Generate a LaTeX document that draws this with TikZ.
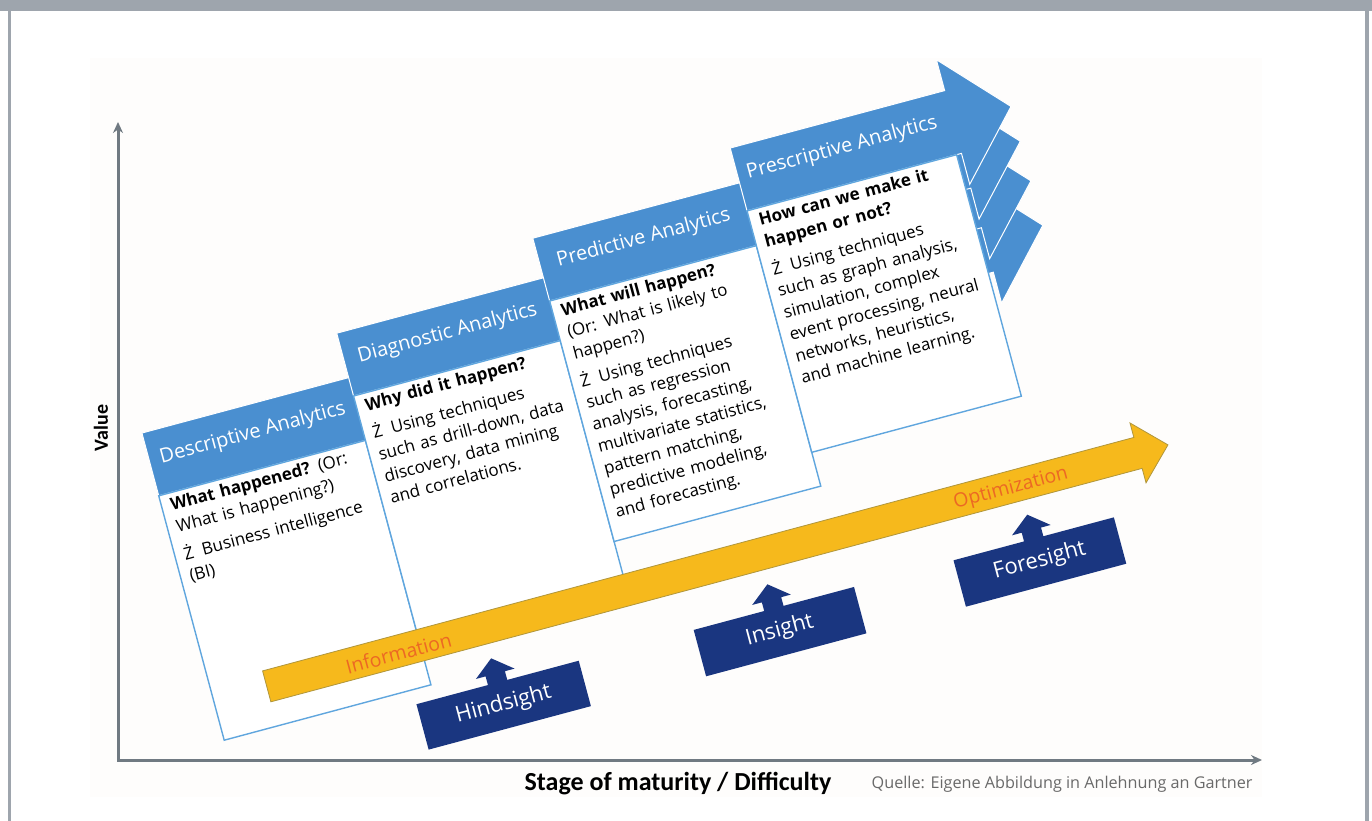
\documentclass[tikz,border=0pt]{standalone}
\usepackage{fontspec}
\setmainfont{Open Sans}
\newfontfamily\carlito{Carlito}
\usetikzlibrary{arrows.meta}

\definecolor{framegray}{RGB}{158,165,173}
\definecolor{axisgray}{RGB}{112,122,130}
\definecolor{hdblue}{RGB}{74,143,208}
\definecolor{cardline}{RGB}{96,166,222}
\definecolor{sightblue}{RGB}{26,54,128}
\definecolor{gold}{RGB}{246,185,28}
\definecolor{goldedge}{RGB}{176,150,60}
\definecolor{orangetxt}{RGB}{236,104,36}
\definecolor{srcgray}{RGB}{105,105,105}
\definecolor{bgtint}{RGB}{254,253,252}

\tikzset{
  hdarrow/.style={fill=hdblue, draw=white, line width=1pt},
  card/.style={fill=white, draw=cardline, line width=1.4pt},
  cardtitle/.style={text=white, inner sep=0pt, font=\fontsize{20}{24}\selectfont},
  cardtext/.style={anchor=north west, inner sep=0pt, text width=205pt, align=left,
    font=\fontsize{17}{22.5}\selectfont},
  sightbox/.style={fill=sightblue},
  sightlabel/.style={text=white, inner sep=0pt, font=\fontsize{22}{26}\selectfont},
  flowlabel/.style={text=orangetxt, inner sep=0pt, font=\fontsize{19.5}{22}\selectfont}
}

\begin{document}
\begin{tikzpicture}[x=1pt, y=-1pt, >={Stealth[length=11pt,width=10pt]}]
    \useasboundingbox (0,0) rectangle (1372,821);

    % Frame
    \fill[bgtint] (90,58) rectangle (1262,797);
    \fill[framegray] (0,0) rectangle (1372,11);
    \fill[framegray] (7.5,0) rectangle (11,821);
    \fill[framegray] (1365,0) rectangle (1369,821);

    % Axes
    \draw[axisgray, line width=3pt, <->] (118,122) -- (118,760) -- (1262,760);
    \node[rotate=90, font=\fontsize{20}{24}\carlito\bfseries] (value) at (101,428) {Value};
    \node[font=\fontsize{26}{30}\carlito\bfseries] (maturity) at (678,784) {Stage of maturity / Difficulty};
    \node[anchor=east, text=srcgray, font=\fontsize{16.2}{19}\selectfont] (source) at (1256,784)
        {Quelle: Eigene Abbildung in Anlehnung an Gartner};

    \begin{scope}[rotate=15, transform shape]
        % Descriptive
        \filldraw[hdarrow] (25,455) -- (889,455) -- (889,423) -- (949,487.5) -- (889,552) -- (889,520) -- (25,520) -- cycle;
        \filldraw[card] (25,520) rectangle (239,773);
        \node[cardtitle] (desc-title) at (132,484) {Descriptive Analytics};
        \node[cardtext] (desc-text) at (34,525)
            {\textbf{What happened?} (Or:\\ What is happening?)\\[6pt]
             Ż\hspace{9pt}Business intelligence\\ (BI)};

        % Diagnostic
        \filldraw[hdarrow] (239,409) -- (889,409) -- (889,377) -- (949,441.5) -- (889,506) -- (889,474) -- (239,474) -- cycle;
        \filldraw[card] (239,474) rectangle (453,735);
        \node[cardtitle] (diag-title) at (346,438) {Diagnostic Analytics};
        \node[cardtext] (diag-text) at (248,479)
            {\textbf{Why did it happen?}\\[6pt]
             Ż\hspace{9pt}Using techniques\\ such as drill-down, data\\ discovery, data mining\\ and correlations.};

        % Predictive
        \filldraw[hdarrow] (453,368) -- (889,368) -- (889,336) -- (949,400.5) -- (889,465) -- (889,433) -- (453,433) -- cycle;
        \filldraw[card] (453,433) rectangle (667,682);
        \node[cardtitle] (pred-title) at (560,397) {Predictive Analytics};
        \node[cardtext] (pred-text) at (462,438)
            {\textbf{What will happen?}\\ (Or: What is likely to\\ happen?)\\[6pt]
             Ż\hspace{9pt}Using techniques\\ such as regression\\ analysis, forecasting,\\
             multivariate statistics,\\ pattern matching,\\ predictive modeling,\\ and forecasting.};

        % Prescriptive
        \filldraw[hdarrow] (667,332) -- (889,332) -- (889,300) -- (949,364.5) -- (889,429) -- (889,397) -- (667,397) -- cycle;
        \filldraw[card] (667,397) rectangle (884,647);
        \node[cardtitle] (presc-title) at (775,361) {Prescriptive Analytics};
        \node[cardtext] (presc-text) at (676,402)
            {\textbf{How can we make it}\\ \textbf{happen or not?}\\[6pt]
             Ż\hspace{9pt}Using techniques\\ such as graph analysis,\\ simulation, complex\\
             event processing, neural\\ networks, heuristics,\\ and machine learning.};

        % Information to optimization
        \filldraw[fill=gold, draw=goldedge, line width=0.8pt] (80,716) -- (982,716) -- (982,701) -- (1013,732)
            -- (982,763) -- (982,748) -- (80,748) -- cycle;
        \node[flowlabel] (info) at (216,734) {Information};
        \node[flowlabel] (optim) at (850,734) {Optimization};

        % Hindsight, insight, foresight
        \fill[sightbox] (220,788) -- (294,788) -- (294,779) -- (284,779) -- (304,763) -- (324,779) -- (314,779)
            -- (314,788) -- (388,788) -- (388,835) -- (220,835) -- cycle;
        \node[sightlabel] (hindsight) at (304,811) {Hindsight};

        \fill[sightbox] (507,788) -- (580,788) -- (580,779) -- (570,779) -- (590,763) -- (610,779) -- (600,779)
            -- (600,788) -- (673,788) -- (673,836) -- (507,836) -- cycle;
        \node[sightlabel] (insight) at (590,811) {Insight};

        \fill[sightbox] (776,788) -- (849,788) -- (849,779) -- (839,779) -- (859,763) -- (879,779) -- (869,779)
            -- (869,788) -- (942,788) -- (942,836) -- (776,836) -- cycle;
        \node[sightlabel] (foresight) at (859,811) {Foresight};
    \end{scope}
\end{tikzpicture}
\end{document}
